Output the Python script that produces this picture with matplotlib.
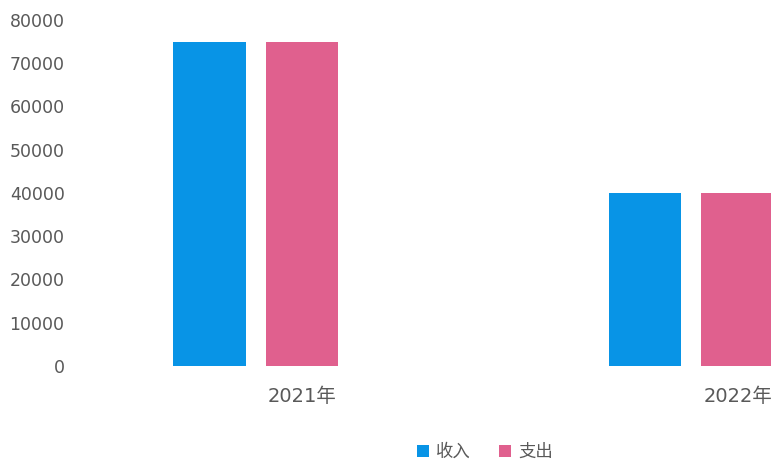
import matplotlib.pyplot as plt
import numpy as np

plt.rcParams['font.family'] = ['DejaVu Sans', 'Noto Sans CJK SC']

# values
years = ['2021年', '2022年']
income = [75000, 40000]
expense = [75000, 40000]
series_names = ['收入', '支出']
yticks = [0, 10000, 20000, 30000, 40000, 50000, 60000, 70000, 80000]

blue = '#0894E6'
pink = '#E0608E'
grey = '#595959'

x = np.arange(len(years))
w = 0.167
step = 0.213

fig = plt.figure(figsize=(7.71, 4.66), dpi=100)
ax = fig.add_axes([0.109, 0.2146, 0.891, 0.7425])

ax.bar(x - step, income, width=w, color=blue, label=series_names[0])
ax.bar(x, expense, width=w, color=pink, label=series_names[1])

ax.set_xlim(-0.5, 1.076)
ax.set_ylim(0, 80000)
ax.set_yticks(yticks)
ax.set_yticklabels([str(v) for v in yticks])
ax.set_xticks(x)
ax.set_xticklabels(years)

for s in ax.spines.values():
    s.set_visible(False)
ax.tick_params(axis='y', length=0, pad=14, labelsize=12.5, labelcolor=grey)
ax.tick_params(axis='x', length=0, pad=15, labelsize=14, labelcolor=grey)

fig.legend(loc='center', bbox_to_anchor=(0.629, 0.030), ncol=2, frameon=False,
           prop={'family': 'Noto Sans CJK SC', 'size': 12.5}, labelcolor=grey,
           handlelength=0.7, handleheight=0.7,
           handletextpad=0.4, columnspacing=1.6)

fig.savefig('out.png', dpi=100)
